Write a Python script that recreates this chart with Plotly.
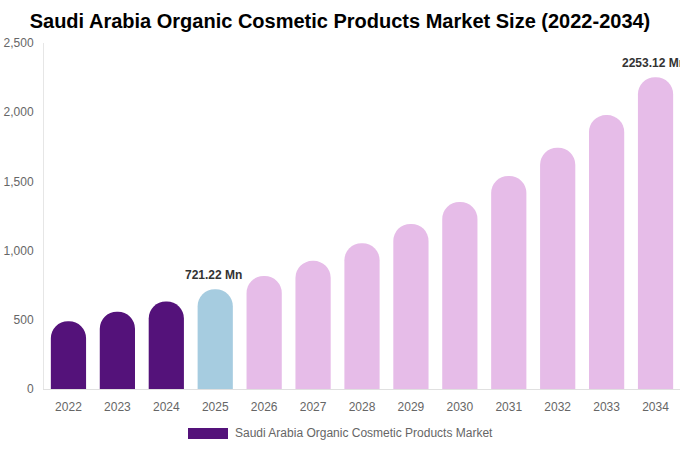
import plotly.graph_objects as go

years = ["2022", "2023", "2024", "2025", "2026", "2027", "2028",
         "2029", "2030", "2031", "2032", "2033", "2034"]
values = [490, 558, 632, 721.22, 817, 926, 1053, 1193, 1351, 1539, 1743, 1979, 2253.12]
labelled = {"2025": "721.22 Mn", "2034": "2253.12 Mn"}
series_name = "Saudi Arabia Organic Cosmetic Products Market"
title = "Saudi Arabia Organic Cosmetic Products Market Size (2022-2034)"

DARK = "#54127A"
BLUE = "#A6CCE0"
PINK = "#E6BCE8"
colors = [DARK if int(y) < 2025 else (BLUE if int(y) == 2025 else PINK) for y in years]

L, R, T, B = 44, 0, 43, 61
W, H = 680, 450
pw, ph = W - L - R, H - T - B
def px_x(x):
    return (x - L) / pw
def px_y(y):
    return (H - B - y) / ph

fig = go.Figure()
fig.add_trace(go.Bar(x=years, y=values, marker=dict(color=colors, line=dict(width=0)),
                     showlegend=False, hoverinfo="x+y"))

annotations = []
for i, (y, v) in enumerate(zip(years, values)):
    if y in labelled:
        annotations.append(dict(x=i, y=v, xref="x", yref="y", text="<b>%s</b>" % labelled[y],
                                showarrow=False, yanchor="bottom", yshift=5, xshift=-2,
                                font=dict(size=12, color="#333333")))
annotations.append(dict(x=px_x(233), y=px_y(433), xref="paper", yref="paper", text=series_name,
                        showarrow=False, xanchor="left", yanchor="middle",
                        font=dict(size=12, color="#666666")))

fig.update_layout(
    width=W, height=H,
    margin=dict(l=L, r=R, t=T, b=B),
    paper_bgcolor="white", plot_bgcolor="white",
    font=dict(family="Liberation Sans, Arial, sans-serif", color="#666666", size=12),
    title=dict(text="<b>%s</b>" % title, x=0.5, xanchor="center", y=1 - 21 / H, yanchor="middle",
               font=dict(size=20, color="#000000")),
    bargap=0.28,
    barcornerradius="50%",
    xaxis=dict(type="category", range=[-0.5, len(years) - 0.5], autorange=False,
               showline=True, linecolor="#e0e0e0", linewidth=1, ticklabelstandoff=7,
               ticks="", showgrid=False, tickfont=dict(size=12, color="#666666")),
    yaxis=dict(range=[0, 2500], autorange=False, tickvals=[0, 500, 1000, 1500, 2000, 2500],
               tickformat=",", showline=True, linecolor="#e6e6e6", linewidth=1,
               showgrid=False, zeroline=False, ticklabelstandoff=7,
               ticks="", tickfont=dict(size=12, color="#666666")),
    annotations=annotations,
    shapes=[dict(type="rect", xref="paper", yref="paper",
                 x0=px_x(188), x1=px_x(228), y0=px_y(439), y1=px_y(428),
                 fillcolor=DARK, line=dict(width=0))],
)

fig.write_html("out.html", config={"displayModeBar": False},
               post_script="document.body.style.margin='0';document.body.style.overflow='hidden';")
